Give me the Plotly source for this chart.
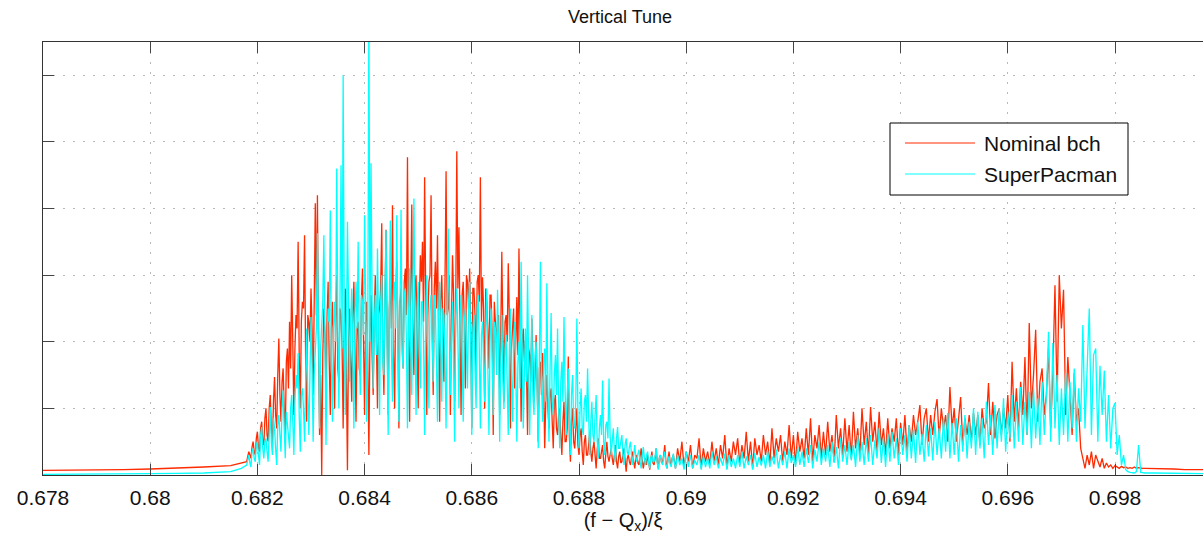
import numpy as np
import plotly.graph_objects as go

# ---------------- text ----------------
title_text = "Vertical Tune"
x_label = "(f − Q<sub>x</sub>)/ξ"
series_names = ["Nominal bch", "SuperPacman"]
series_colors = ["#ff2a00", "#00ffff"]

x_tick_values = [0.678, 0.680, 0.682, 0.684, 0.686, 0.688, 0.690, 0.692, 0.694, 0.696, 0.698]
x_tick_labels = ["0.678", "0.68", "0.682", "0.684", "0.686", "0.688", "0.69", "0.692", "0.694", "0.696", "0.698"]
y_tick_values = [1, 2, 3, 4, 5, 6]

# ---------------- data ----------------
# quiet region left of the spectrum
left_freq = [0.6780, 0.6785, 0.6790, 0.6795, 0.6800, 0.6805, 0.6810, 0.6815, 0.6817]
left_nominal = [0.07, 0.07, 0.075, 0.08, 0.09, 0.10, 0.12, 0.14, 0.18]
left_superpacman = [0.01, 0.01, 0.012, 0.015, 0.02, 0.025, 0.03, 0.05, 0.10]

# main hump, sampled every 0.00002 starting at 0.6818
hump_start = 0.6818
hump_step = 0.00002
hump_nominal = [
    0.2, 0.28, 0.35, 0.3, 0.25, 0.42, 0.5, 0.35, 0.3, 0.55, 0.65, 0.4, 0.35, 0.7, 0.8, 0.5, 0.45, 0.85, 1.0, 0.6,
    0.5, 1.0, 1.2, 0.7, 0.45, 1.1, 1.47, 0.9, 0.7, 1.5, 2.05, 1.2, 0.8, 1.4, 1.6, 1.0, 0.6, 1.7, 1.9, 1.3,
    2.3, 1.6, 3.0, 2.0, 0.9, 1.9, 2.4, 2.2, 3.5, 1.8, 1.0, 2.3, 2.6, 2.5, 3.6, 1.7, 0.8, 2.4, 2.3, 2.0,
    2.8, 2.2, 1.2, 2.6, 4.08, 2.4, 4.2, 1.9, 0.6, 1.5, 0.0, 1.8, 2.5, 2.1, 1.3, 2.4, 2.9, 1.7, 0.9, 2.2,
    2.6, 1.8, 1.0, 2.3, 3.0, 1.6, 1.4, 2.5, 2.4, 1.9, 0.7, 2.2, 2.8, 1.5, 0.07, 2.0, 2.5, 1.7, 1.1, 2.4,
    2.9, 1.9, 0.8, 2.2, 2.3, 1.6, 1.5, 2.6, 3.1, 2.0, 0.9, 2.3, 2.6, 1.7, 0.3, 2.1, 2.7, 1.8, 1.2, 2.4,
    3.0, 2.0, 1.0, 2.4, 2.5, 2.8, 3.78, 1.9, 1.2, 2.6, 3.68, 2.1, 0.9, 2.5, 2.9, 2.2, 4.05, 1.8, 1.0, 2.7,
    3.2, 2.3, 0.7, 2.6, 2.8, 2.0, 1.6, 2.9, 3.1, 2.4, 4.77, 2.1, 0.8, 2.7, 4.06, 2.2, 1.5, 2.8, 3.0, 2.0,
    1.0, 2.5, 3.3, 2.9, 3.5, 2.3, 4.47, 2.7, 0.9, 2.4, 2.9, 3.0, 4.2, 2.2, 1.2, 2.8, 3.2, 2.5, 3.6, 2.1,
    0.8, 2.6, 3.0, 2.2, 1.4, 2.9, 4.56, 2.4, 2.5, 3.0, 0.9, 2.3, 3.3, 2.7, 1.1, 2.5, 4.86, 2.8, 3.72, 2.2,
    0.9, 2.7, 2.9, 2.3, 1.3, 3.0, 2.9, 2.5, 3.1, 2.2, 0.7, 2.8, 2.8, 2.4, 1.5, 2.9, 3.0, 2.6, 4.47, 2.3,
    2.97, 2.5, 1.0, 2.8, 2.6, 2.2, 1.6, 2.7, 2.7, 2.1, 0.6, 2.6, 2.3, 2.0, 2.3, 2.4, 0.9, 2.5, 3.35, 2.1,
    1.1, 2.3, 2.4, 2.0, 3.18, 2.4, 0.7, 1.9, 2.2, 2.5, 1.3, 2.1, 2.67, 1.8, 3.4, 2.2, 0.8, 2.0, 2.2, 1.7,
    2.0, 1.6, 0.6, 1.9, 1.8, 1.4, 2.35, 1.7, 1.1, 1.5, 2.1, 1.3, 0.5, 1.6, 1.7, 1.2, 1.83, 1.4, 0.4, 1.1,
    1.5, 1.0, 0.7, 1.2, 1.3, 0.8, 0.4, 1.1, 1.2, 0.7, 0.6, 0.9, 1.0, 0.6, 0.3, 0.8, 1.1, 0.5, 0.5, 0.7,
    1.78, 0.6, 0.2, 0.8, 1.0, 0.5, 0.4, 0.7, 1.0, 0.45, 0.3, 0.6, 0.7, 0.35, 0.15, 0.5, 0.6, 0.3, 0.3, 0.45,
    0.65, 0.35, 0.2, 0.4, 0.5, 0.3, 0.1, 0.38, 0.55, 0.25, 0.25, 0.35, 0.45, 0.2, 0.1, 0.32, 0.5, 0.28, 0.2, 0.3,
    0.4, 0.25, 0.15, 0.3, 0.45, 0.2, 0.1, 0.28, 0.35, 0.18, 0.2, 0.3, 0.4, 0.22, 0.05, 0.25, 0.3, 0.2, 0.15, 0.27,
    0.35, 0.2, 0.1, 0.25, 0.3, 0.18, 0.15, 0.28, 0.4, 0.22, 0.1, 0.2, 0.25, 0.15, 0.3, 0.2, 0.08, 0.24, 0.35, 0.18,
    0.15, 0.25, 0.4, 0.2, 0.1, 0.26, 0.3, 0.18, 0.2, 0.3, 0.45, 0.22, 0.1, 0.24, 0.35, 0.2, 0.15, 0.26, 0.3, 0.2,
]
hump_superpacman = [
    0.15, 0.22, 0.3, 0.18, 0.12, 0.35, 0.4, 0.25, 0.2, 0.45, 0.5, 0.3, 0.15, 0.6, 0.72, 0.4, 0.25, 0.5, 0.55, 0.35,
    0.2, 0.6, 1.02, 0.5, 0.3, 0.85, 0.7, 0.4, 0.15, 0.75, 0.9, 0.6, 0.35, 1.0, 1.27, 0.7, 0.25, 0.95, 0.8, 0.55,
    0.4, 1.0, 1.2, 0.8, 0.3, 1.1, 1.5, 1.3, 1.83, 0.9, 0.35, 1.2, 1.3, 1.0, 0.5, 1.4, 2.2, 1.2, 0.6, 1.5,
    2.37, 1.6, 0.5, 1.5, 1.8, 2.2, 3.63, 1.8, 0.7, 1.9, 2.2, 2.6, 3.6, 1.5, 0.45, 1.9, 2.5, 2.3, 3.97, 1.7,
    0.8, 2.2, 2.6, 2.0, 4.6, 2.3, 1.0, 2.5, 4.65, 1.9, 6.0, 2.4, 0.9, 2.1, 3.8, 2.6, 1.4, 2.3, 2.8, 1.8,
    0.7, 2.4, 2.9, 2.2, 3.5, 1.9, 1.2, 2.7, 2.6, 2.1, 3.9, 2.5, 0.8, 2.3, 7.0, 2.0, 4.68, 2.6, 1.3, 2.2,
    2.7, 1.8, 3.4, 2.3, 0.9, 2.6, 3.0, 1.7, 1.5, 2.8, 3.67, 2.0, 0.6, 2.4, 3.82, 1.9, 1.1, 2.6, 2.9, 2.2,
    3.9, 2.1, 0.8, 2.5, 3.98, 1.8, 1.6, 2.7, 2.8, 2.0, 0.7, 2.4, 3.1, 1.9, 1.2, 2.8, 4.15, 2.2, 0.9, 2.5,
    2.9, 1.9, 1.3, 2.6, 2.6, 2.0, 0.6, 2.3, 3.0, 1.8, 1.0, 2.5, 2.7, 2.1, 1.4, 2.7, 2.5, 1.7, 0.8, 2.4,
    2.9, 2.0, 1.1, 2.5, 2.4, 1.8, 0.7, 2.2, 3.7, 2.6, 1.2, 2.0, 2.6, 1.7, 0.5, 2.4, 2.8, 2.1, 1.0, 2.3,
    2.7, 1.8, 0.8, 2.3, 2.5, 1.9, 1.3, 2.6, 2.9, 2.0, 0.6, 2.2, 2.4, 1.6, 1.0, 2.5, 2.7, 1.9, 0.7, 2.1,
    2.3, 1.7, 1.1, 2.2, 2.8, 1.6, 0.6, 2.0, 2.5, 1.8, 0.9, 2.3, 2.2, 1.5, 2.78, 1.9, 0.5, 1.7, 2.4, 1.4,
    1.0, 1.9, 2.1, 1.4, 0.6, 1.8, 2.5, 1.5, 0.8, 2.0, 2.3, 1.6, 0.5, 1.7, 2.0, 1.3, 3.2, 1.8, 0.7, 1.5,
    2.2, 1.4, 3.0, 1.7, 0.6, 1.5, 2.4, 1.2, 0.9, 1.8, 2.0, 1.3, 0.4, 1.6, 3.2, 1.4, 0.8, 1.7, 1.9, 1.1,
    2.88, 1.3, 0.5, 1.6, 2.43, 1.1, 0.9, 1.5, 1.8, 1.2, 2.2, 1.0, 0.4, 1.4, 1.7, 1.1, 2.37, 1.3, 0.6, 1.2,
    1.6, 0.9, 0.3, 1.2, 1.5, 0.8, 0.7, 1.1, 2.35, 0.9, 0.4, 1.0, 1.3, 0.7, 0.6, 1.1, 1.2, 0.8, 1.6, 0.9,
    0.3, 0.8, 1.1, 0.6, 0.5, 0.9, 1.2, 0.5, 0.25, 0.7, 0.9, 0.6, 1.42, 0.5, 0.3, 0.75, 0.8, 0.55, 1.45, 0.6,
    0.3, 0.5, 0.7, 0.35, 0.2, 0.55, 0.72, 0.4, 0.4, 0.5, 0.6, 0.3, 0.15, 0.45, 0.55, 0.35, 0.3, 0.42, 0.5, 0.3,
    0.15, 0.3, 0.45, 0.25, 0.2, 0.32, 0.38, 0.2, 0.1, 0.28, 0.42, 0.25, 0.15, 0.3, 0.35, 0.18, 0.1, 0.26, 0.3, 0.2,
    0.2, 0.28, 0.4, 0.18, 0.08, 0.25, 0.3, 0.2, 0.15, 0.27, 0.35, 0.15, 0.1, 0.22, 0.28, 0.16, 0.12, 0.24, 0.32, 0.18,
]

# upper band, sampled every 0.00004 starting at 0.6898
upper_start = 0.6898
upper_step = 0.00004
upper_nominal = [
    0.1, 0.4, 0.2, 0.5, 0.12, 0.35, 0.2, 0.45, 0.1, 0.3,
    0.25, 0.55, 0.1, 0.4, 0.2, 0.35, 0.15, 0.5, 0.2, 0.4,
    0.15, 0.45, 0.25, 0.6, 0.1, 0.4, 0.2, 0.5, 0.3, 0.55,
    0.15, 0.45, 0.25, 0.65, 0.2, 0.5, 0.1, 0.55, 0.3, 0.45,
    0.2, 0.6, 0.3, 0.5, 0.15, 0.7, 0.25, 0.55, 0.35, 0.6,
    0.2, 0.5, 0.3, 0.75, 0.25, 0.6, 0.15, 0.65, 0.35, 0.55,
    0.25, 0.7, 0.3, 0.85, 0.2, 0.6, 0.4, 0.75, 0.25, 0.65,
    0.3, 0.8, 0.35, 0.6, 0.2, 0.9, 0.4, 0.7, 0.3, 0.85,
    0.35, 0.75, 0.25, 0.95, 0.4, 0.7, 0.3, 1.0, 0.45, 0.8,
    0.3, 1.02, 0.5, 0.8, 0.35, 0.95, 0.45, 0.7, 0.3, 0.85,
    0.4, 0.7, 0.5, 0.85, 0.3, 0.78, 0.45, 0.9, 0.35, 0.75,
    0.5, 0.9, 0.6, 0.8, 1.05, 0.45, 0.85, 1.0, 0.5, 0.9,
    0.6, 0.95, 1.14, 0.55, 1.0, 0.7, 0.9, 0.5, 1.32, 0.7,
    1.0, 0.5, 0.8, 1.17, 0.45, 0.85, 0.6, 0.9, 0.5, 0.93,
    0.6, 0.9, 0.45, 1.0, 0.7, 0.8, 1.38, 0.6, 1.1, 0.55,
    0.9, 1.0, 0.6, 1.0, 0.7, 1.2, 0.5, 1.7, 0.8, 1.3,
    0.7, 1.4, 0.9, 1.77, 0.6, 2.28, 1.0, 1.5, 2.18, 0.8,
    1.4, 1.6, 0.9, 1.2, 1.9, 0.7, 1.5, 2.85, 1.1, 3.0,
    2.2, 2.78, 0.9, 1.77, 1.2, 0.6, 1.53, 0.8, 1.0, 0.4,
    0.25, 0.1, 0.3, 0.15, 0.35, 0.1, 0.3, 0.2, 0.12, 0.25,
    0.1, 0.18, 0.12, 0.15, 0.1, 0.14, 0.12, 0.1, 0.13, 0.11,
    0.12, 0.1, 0.11, 0.1, 0.12, 0.1, 0.11, 0.1, 0.1, 0.1,
]
upper_superpacman = [
    0.1, 0.3, 0.15, 0.25, 0.08, 0.35, 0.12, 0.3, 0.1, 0.22,
    0.15, 0.3, 0.08, 0.28, 0.12, 0.25, 0.1, 0.35, 0.15, 0.28,
    0.1, 0.26, 0.14, 0.32, 0.08, 0.3, 0.12, 0.25, 0.1, 0.3,
    0.12, 0.35, 0.1, 0.28, 0.15, 0.3, 0.08, 0.33, 0.12, 0.27,
    0.14, 0.3, 0.1, 0.36, 0.12, 0.28, 0.16, 0.38, 0.1, 0.3,
    0.15, 0.35, 0.1, 0.4, 0.18, 0.3, 0.12, 0.42, 0.15, 0.35,
    0.12, 0.4, 0.18, 0.45, 0.1, 0.38, 0.2, 0.5, 0.15, 0.4,
    0.2, 0.45, 0.12, 0.5, 0.18, 0.42, 0.1, 0.55, 0.2, 0.45,
    0.15, 0.5, 0.22, 0.45, 0.12, 0.6, 0.2, 0.5, 0.15, 0.55,
    0.2, 0.6, 0.15, 0.52, 0.25, 0.7, 0.18, 0.55, 0.12, 0.62,
    0.2, 0.65, 0.25, 0.55, 0.15, 0.7, 0.3, 0.6, 0.2, 0.75,
    0.25, 0.68, 0.18, 0.8, 0.3, 0.62, 0.2, 0.75, 0.28, 0.7,
    0.22, 0.8, 0.3, 0.7, 0.25, 0.85, 0.35, 0.93, 0.25, 0.78,
    0.3, 0.85, 0.2, 0.75, 0.35, 0.9, 0.25, 0.8, 0.4, 1.0,
    0.3, 0.95, 0.4, 0.85, 0.25, 1.1, 0.45, 0.9, 0.3, 1.05,
    0.4, 1.0, 0.5, 1.15, 0.35, 0.95, 0.55, 1.2, 0.4, 1.1,
    0.5, 1.32, 0.45, 1.1, 0.6, 1.25, 0.4, 1.3, 0.55, 1.15,
    0.45, 1.4, 0.6, 1.2, 2.15, 0.5, 1.98, 0.7, 1.5, 0.45,
    1.3, 0.6, 1.53, 0.5, 1.4, 0.7, 1.6, 0.5, 1.3, 0.8,
    2.25, 0.7, 1.6, 2.5, 0.6, 1.8, 1.9, 0.5, 1.64, 0.9,
    1.57, 0.5, 1.2, 0.4, 1.0, 1.08, 0.3, 0.6, 0.15, 0.3,
    0.08, 0.05, 0.04, 0.04, 0.03, 0.05, 0.45, 0.04, 0.03, 0.03,
]

# quiet region right of the spectrum
right_freq = [0.6987, 0.6989, 0.6991, 0.6993, 0.6995, 0.6997]
right_nominal = [0.10, 0.09, 0.09, 0.08, 0.08, 0.08]
right_superpacman = [0.03, 0.03, 0.025, 0.02, 0.02, 0.02]

# ---------------- assemble ----------------
hump_freq = np.round(hump_start + hump_step * np.arange(len(hump_nominal)), 6)
upper_freq = np.round(upper_start + upper_step * np.arange(len(upper_nominal)), 6)
freq = np.concatenate([left_freq, hump_freq, upper_freq, right_freq])
nominal = np.concatenate([left_nominal, hump_nominal, upper_nominal, right_nominal])
superpacman = np.concatenate([left_superpacman, hump_superpacman, upper_superpacman, right_superpacman])

FONT = "Liberation Sans, Arial, Helvetica, sans-serif"

fig = go.Figure()
for name, yvals, color in [(series_names[0], nominal, series_colors[0]),
                           (series_names[1], superpacman, series_colors[1])]:
    fig.add_trace(go.Scatter(x=freq, y=yvals, mode="lines", name=name,
                             line=dict(color=color, width=1.3), showlegend=False))

W, H = 1203, 535
ML, MR, MT, MB = 43, 0, 42, 60
PW, PH = W - ML - MR, H - MT - MB
x_lo = 0.678
px_per_unit = 53600.0
x_hi = x_lo + PW / px_per_unit

def px(xp):
    return (xp - ML) / PW

def py(yp):
    return (H - MB - yp) / PH

# legend drawn as a framed box
shapes = [
    dict(type="rect", xref="paper", yref="paper", x0=px(890), x1=px(1128), y0=py(195), y1=py(123),
         line=dict(color="black", width=1), fillcolor="white", layer="above"),
]
annotations = []
for k, (name, color) in enumerate(zip(series_names, series_colors)):
    yy = py(143 + 31 * k)
    shapes.append(dict(type="line", xref="paper", yref="paper", x0=px(905), x1=px(975), y0=yy, y1=yy,
                       line=dict(color=color, width=1.2), layer="above"))
    annotations.append(dict(text=name, xref="paper", yref="paper", x=px(982), y=yy,
                            xanchor="left", yanchor="middle", showarrow=False,
                            font=dict(family=FONT, size=21, color="#111")))

fig.update_layout(
    width=W, height=H,
    margin=dict(l=ML, r=MR, t=MT, b=MB, pad=0),
    paper_bgcolor="white", plot_bgcolor="white",
    font=dict(family=FONT, color="#111"),
    showlegend=False,
    title=dict(text=title_text, x=620 / W, xanchor="center", xref="container",
               y=1 - 17 / H, yanchor="middle", yref="container",
               font=dict(family=FONT, size=18, color="#111")),
    shapes=shapes, annotations=annotations,
    xaxis=dict(range=[x_lo, x_hi], tickvals=x_tick_values, ticktext=x_tick_labels,
               ticks="inside", ticklen=11, tickwidth=1, tickcolor="#444",
               showline=True, linecolor="#333", linewidth=1, mirror="ticks",
               showgrid=True, gridcolor="#b8b8b8", gridwidth=1, griddash="2px,8px",
               zeroline=False, tickfont=dict(size=21, color="#111"),
               ticklabelstandoff=4,
               title=dict(text=x_label, font=dict(size=20, color="#111"), standoff=2)),
    yaxis=dict(range=[0, 6.5], tickvals=y_tick_values, showticklabels=False,
               ticks="inside", ticklen=11, tickwidth=1, tickcolor="#444",
               showline=True, linecolor="#333", linewidth=1, mirror=False,
               showgrid=True, gridcolor="#b8b8b8", gridwidth=1, griddash="2px,8px",
               zeroline=False),
)

fig.write_html("out.html")
